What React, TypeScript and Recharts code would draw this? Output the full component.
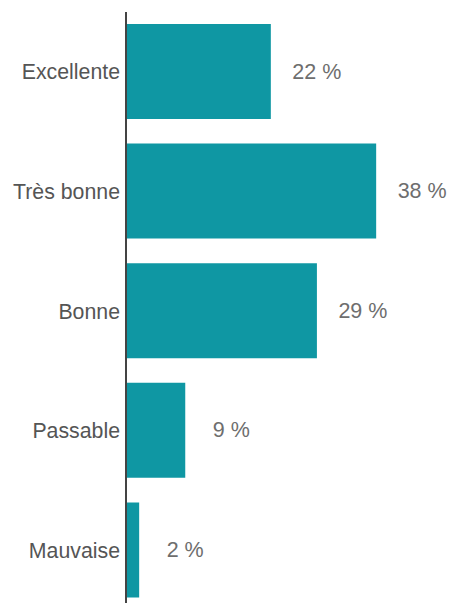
import React from "react";
import { BarChart, Bar, XAxis, YAxis, LabelList } from "recharts";

const categories = ["Excellente", "Très bonne", "Bonne", "Passable", "Mauvaise"];
const percents = [22, 38, 29, 9, 2];

const data = categories.map((name, i) => ({ name, value: percents[i] }));

const renderValue = (props: any) => {
  const { x, y, width, height, value } = props;
  return (
    <text
      x={x + width + 46}
      y={y + height / 2}
      textAnchor="middle"
      dominantBaseline="central"
      fill="#6e6e6e"
      fontSize={21.5}
      fontFamily="'Liberation Sans', Arial, sans-serif"
    >
      {`${value} %`}
    </text>
  );
};

const App: React.FC = () => {
  return (
    <div
      style={{
        position: "absolute",
        left: 0,
        top: 0,
        width: 453,
        height: 603,
        overflow: "hidden",
        background: "#fff",
      }}
    >
      <BarChart
        width={453}
        height={610}
        data={data}
        layout="vertical"
        margin={{ top: 12, right: 11, bottom: 0, left: 0 }}
        barSize={95}
      >
        <XAxis type="number" domain={[0, 48]} hide />
        <YAxis
          type="category"
          dataKey="name"
          width={126}
          tickLine={false}
          tickMargin={0}
          axisLine={{ stroke: "#444", strokeWidth: 2 }}
          tick={{ fill: "#555", fontSize: 21.3, fontFamily: "'Liberation Sans', Arial, sans-serif" }}
        />
        <Bar dataKey="value" fill="#0f97a3" isAnimationActive={false}>
          <LabelList dataKey="value" content={renderValue} />
        </Bar>
      </BarChart>
    </div>
  );
};

export default App;
